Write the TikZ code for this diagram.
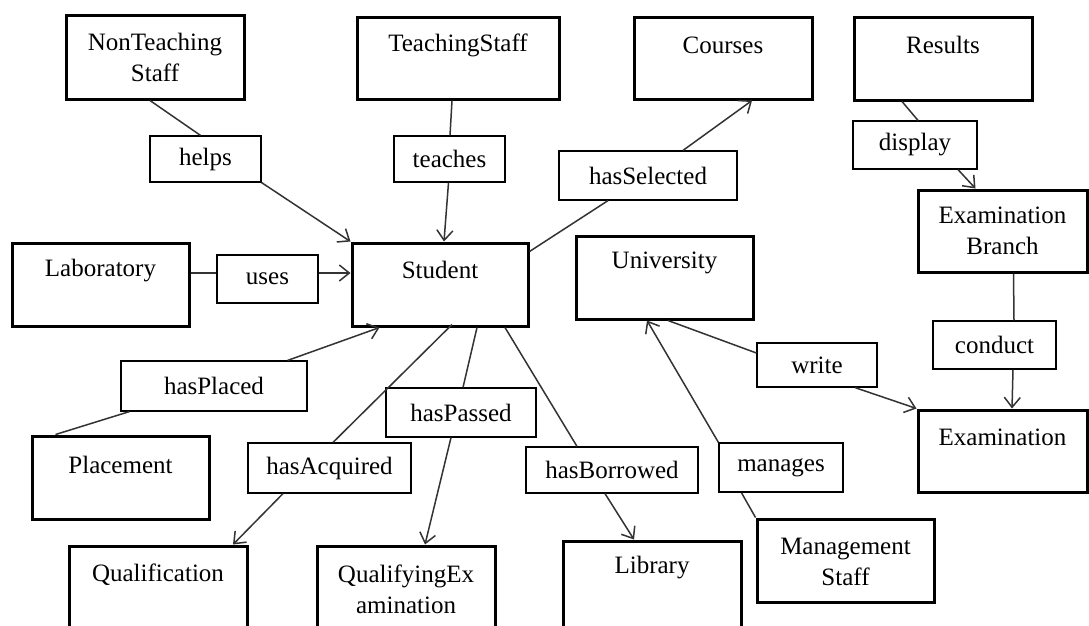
\documentclass[tikz,border=0pt]{standalone}
\usepackage{fontspec}
\setmainfont{Liberation Serif}
\usetikzlibrary{arrows.meta}
\newcommand\entbox[5]{\node[ent,minimum width={#4-#2},minimum height={#5-#3}] (#1) at ({(#2+#4)/2},{(#3+#5)/2}) {};}
\newcommand\relbox[6]{\node[rel,minimum width={#4-#2},minimum height={#5-#3}] (#1) at ({(#2+#4)/2},{(#3+#5)/2}) {#6};}
\begin{document}
\begin{tikzpicture}[x=1pt,y=-1pt,
  ent/.style={draw=black,line width=3pt,rectangle,inner sep=0pt,fill=white},
  rel/.style={draw=black,line width=1.2pt,rectangle,inner sep=0pt,fill=white,font=\fontsize{25}{30}\selectfont},
  etxt/.style={font=\fontsize{25}{31}\selectfont,align=center,inner sep=0pt},
  con/.style={draw=black!80,line width=1.5pt},
  arr/.style={con,-{Straight Barb[length=10pt,width=16pt]}}]
\clip (0,0) rectangle (1089,625);
\fill[white] (0,0) rectangle (1089,625);
% entities
\entbox{nts}{66}{15}{244}{99}
\entbox{ts}{357}{17}{559}{99}
\entbox{crs}{634}{17}{812}{99}
\entbox{res}{854}{17}{1032}{100}
\entbox{eb}{918}{190}{1087}{272}
\entbox{lab}{12}{243}{189}{326}
\entbox{stu}{352}{243}{528}{326}
\entbox{uni}{576}{236}{753}{319}
\entbox{plc}{32}{436}{209}{519}
\entbox{qual}{69}{546}{247}{640}
\entbox{qe}{317}{546}{495}{640}
\entbox{lib}{563}{541}{741}{640}
\entbox{ms}{757}{519}{934}{602}
\entbox{exam}{918}{410}{1087}{492}
% entity texts
\node[etxt] (ntsT) at (155,57.5) {NonTeaching\\Staff};
\node[etxt] (tsT) at (458,45) {TeachingStaff};
\node[etxt] (crsT) at (723,45) {Courses};
\node[etxt] (resT) at (943,45) {Results};
\node[etxt] (ebT) at (1002.5,231) {Examination\\Branch};
\node[etxt] (labT) at (100.5,271) {Laboratory};
\node[etxt] (stuT) at (440,270) {Student};
\node[etxt] (uniT) at (664.5,263) {University};
\node[etxt] (plcT) at (120.5,465) {Placement};
\node[etxt] (qualT) at (158,575) {Qualification};
\node[etxt] (qeT) at (406,589.5) {QualifyingEx\\amination};
\node[etxt] (libT) at (652,568) {Library};
\node[etxt] (msT) at (845.5,561.5) {Management\\Staff};
\node[etxt] (examT) at (1002.5,437) {Examination};
% relation labels
\relbox{helps}{150}{136}{261}{182}{helps}
\relbox{teaches}{394}{136}{505}{182}{teaches}
\relbox{hassel}{559}{151}{737}{200}{hasSelected}
\relbox{display}{853}{121}{977}{169}{display}
\relbox{uses}{217}{255}{318}{303}{uses}
\relbox{hasplaced}{121}{361}{307}{411}{hasPlaced}
\relbox{haspassed}{386}{388}{536}{437}{hasPassed}
\relbox{hasacq}{248}{443}{411}{493}{hasAcquired}
\relbox{hasbor}{526}{447}{698}{493}{hasBorrowed}
\relbox{manages}{719}{443}{843}{492}{manages}
\relbox{write}{757}{343}{877}{387}{write}
\relbox{conduct}{933}{321}{1056}{369}{conduct}
% connectors
\draw[con] ([xshift=-5]nts.south) -- ([xshift=-5]helps.north);
\draw[arr] (helps.south east) -- (stu.north west);
\draw[con] ([xshift=-6]ts.south) -- ([xshift=0.5]teaches.north);
\draw[arr] ([xshift=-1]teaches.south) -- ([xshift=4]stu.north);
\draw[con] ([yshift=-10]stu.north east) -- ([xshift=-40]hassel.south);
\draw[arr] ([xshift=35]hassel.north) -- ([xshift=29]crs.south);
\draw[con] ([xshift=-41]res.south) -- ([xshift=3]display.north);
\draw[arr] ([xshift=43]display.south) -- ([xshift=-27]eb.north);
\draw[con] ([xshift=11]eb.south) -- ([xshift=19.5]conduct.north);
\draw[arr] ([xshift=18.5]conduct.south) -- ([xshift=9.5]exam.north);
\draw[con] ([yshift=11.5]lab.east) -- ([yshift=6]uses.west);
\draw[arr] ([yshift=6]uses.east) -- ([yshift=11.5]stu.west);
\draw[con] ([xshift=25]plc.north west) -- ([xshift=9]hasplaced.south west);
\draw[arr] ([xshift=-20]hasplaced.north east) -- ([xshift=29]stu.south west);
\draw[con] ([xshift=12,yshift=3]stu.south) -- ([xshift=3.5]hasacq.north);
\draw[arr] ([xshift=-46.5]hasacq.south) -- ([xshift=75]qual.north);
\draw[con] ([xshift=37]stu.south) -- ([xshift=2]haspassed.north);
\draw[arr] ([xshift=-10]haspassed.south) -- ([xshift=19]qe.north);
\draw[con] ([xshift=65]stu.south) -- ([xshift=-35]hasbor.north);
\draw[arr] ([xshift=-7]hasbor.south) -- ([xshift=-18]lib.north);
\draw[con] (ms.north west) -- ([xshift=23]manages.south west);
\draw[arr] (manages.north west) -- ([xshift=-17.5]uni.south);
\draw[con] ([xshift=3.5]uni.south) -- ([yshift=12]write.west);
\draw[arr] ([xshift=38]write.south) -- (exam.north west);
\end{tikzpicture}
\end{document}
